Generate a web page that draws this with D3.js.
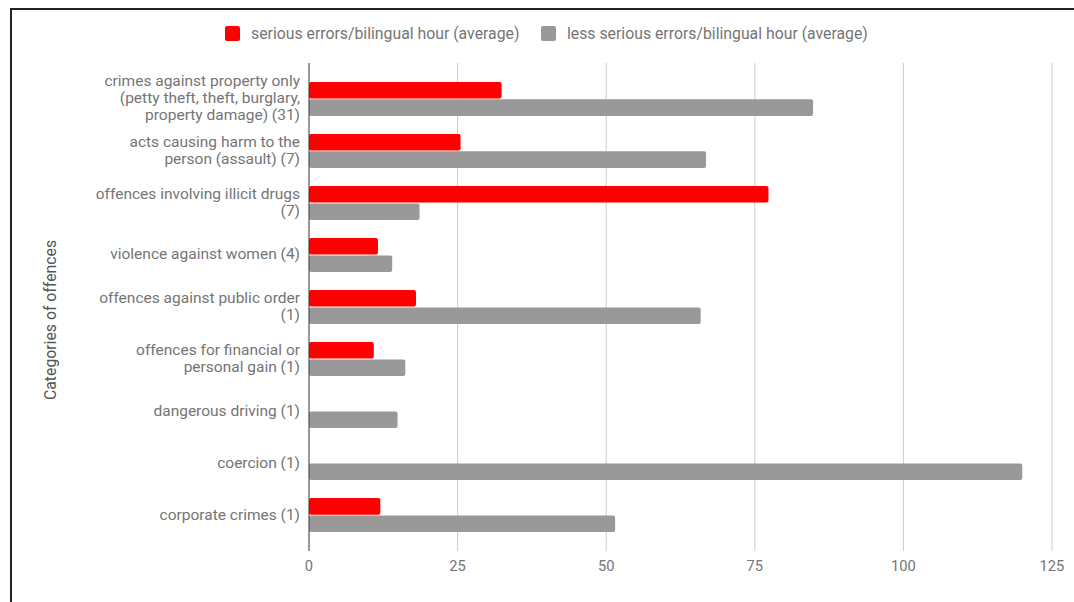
<!DOCTYPE html>
<html>
<head>
<meta charset="utf-8">
<script src="https://cdn.jsdelivr.net/npm/d3@7"></script>
<style>
  body { margin: 0; background: #fff; }
  svg { display: block; font-family: Roboto, sans-serif; }
</style>
</head>
<body>
<svg id="chart" width="1074" height="602"></svg>
<script>
// categories, line breaks as in the original labels
const categories = [
  "crimes against property only\n(petty theft, theft, burglary,\nproperty damage) (31)",
  "acts causing harm to the\nperson (assault) (7)",
  "offences involving illicit drugs\n(7)",
  "violence against women (4)",
  "offences against public order\n(1)",
  "offences for financial or\npersonal gain (1)",
  "dangerous driving (1)",
  "coercion (1)",
  "corporate crimes (1)"
];
const seriousErrors = [32.4, 25.5, 77.3, 11.6, 18.0, 10.9, 0, 0, 12.0];
const lessSeriousErrors = [84.8, 66.8, 18.6, 14.0, 65.9, 16.2, 14.9, 120.0, 51.5];
const seriesNames = ["serious errors/bilingual hour (average)", "less serious errors/bilingual hour (average)"];
const seriesColors = ["#ff0000", "#999999"];
const xTicks = [0, 25, 50, 75, 100, 125];
const yTitle = "Categories of offences";

const svg = d3.select('#chart');

// frame lines (top and left)
svg.append('line').attr('x1', 10).attr('x2', 1074).attr('y1', 9).attr('y2', 9)
    .attr('stroke', '#222').attr('stroke-width', 2);
svg.append('line').attr('x1', 11).attr('x2', 11).attr('y1', 8).attr('y2', 602)
    .attr('stroke', '#222').attr('stroke-width', 2);

const plotLeft = 309, plotRight = 1052, plotTop = 63, plotBottom = 551;

const x = d3.scaleLinear().domain([0, 125]).range([plotLeft, plotRight]);
const y = d3.scaleBand().domain(d3.range(categories.length)).range([plotTop, plotBottom])
    .paddingInner(0).paddingOuter(0.19);
const sub = d3.scaleBand().domain([0, 1]).range([9, y.bandwidth() - 9]).paddingInner(0.05);

// gridlines
svg.append('g').selectAll('line').data(xTicks.slice(1)).enter().append('line')
    .attr('x1', d => x(d)).attr('x2', d => x(d))
    .attr('y1', plotTop).attr('y2', plotBottom)
    .attr('stroke', '#cccccc').attr('stroke-width', 1);

// x tick labels
svg.append('g').selectAll('text').data(xTicks).enter().append('text')
    .attr('x', d => x(d)).attr('y', 571)
    .attr('text-anchor', 'middle')
    .attr('font-size', 14.7).attr('fill', '#757575')
    .text(d => d);

// bars
const rows = categories.map((c, i) => ({ i, vals: [seriousErrors[i], lessSeriousErrors[i]] }));
const groups = svg.append('g').selectAll('g').data(rows).enter().append('g')
    .attr('transform', d => 'translate(0,' + y(d.i) + ')');

groups.selectAll('rect').data(d => d.vals.map((v, k) => ({ v, k })).filter(d => d.v > 0)).enter()
    .append('rect')
    .attr('x', x(0))
    .attr('y', d => sub(d.k))
    .attr('width', d => x(d.v) - x(0))
    .attr('height', sub.bandwidth())
    .attr('rx', 2)
    .attr('fill', d => seriesColors[d.k]);

// category labels
svg.append('g').selectAll('text').data(categories).enter().append('text')
    .attr('text-anchor', 'end')
    .attr('font-size', 15.5).attr('fill', '#757575')
    .each(function (d, i) {
        const lines = d.split('\n');
        const cy = y(i) + y.bandwidth() / 2;
        d3.select(this).selectAll('tspan').data(lines).enter().append('tspan')
            .attr('x', 300)
            .attr('y', (l, j) => cy + (j - (lines.length - 1) / 2) * 17 + 4.5)
            .text(l => l);
    });

// axis line at zero
svg.append('line').attr('x1', x(0)).attr('x2', x(0)).attr('y1', plotTop).attr('y2', plotBottom)
    .attr('stroke', '#333').attr('stroke-width', 1);

// y title
svg.append('text')
    .attr('transform', 'translate(56,320) rotate(-90)')
    .attr('text-anchor', 'middle')
    .attr('font-size', 15.8).attr('fill', '#555')
    .text(yTitle);

// legend
const legend = svg.append('g');
const legendX = [225, 541];
seriesNames.forEach((name, k) => {
    legend.append('rect').attr('x', legendX[k]).attr('y', 26).attr('width', 15).attr('height', 15)
        .attr('rx', 2).attr('fill', seriesColors[k]);
    legend.append('text').attr('x', legendX[k] + 26).attr('y', 38.5)
        .attr('font-size', 15.8).attr('fill', '#757575').text(name);
});
</script>
</body>
</html>
